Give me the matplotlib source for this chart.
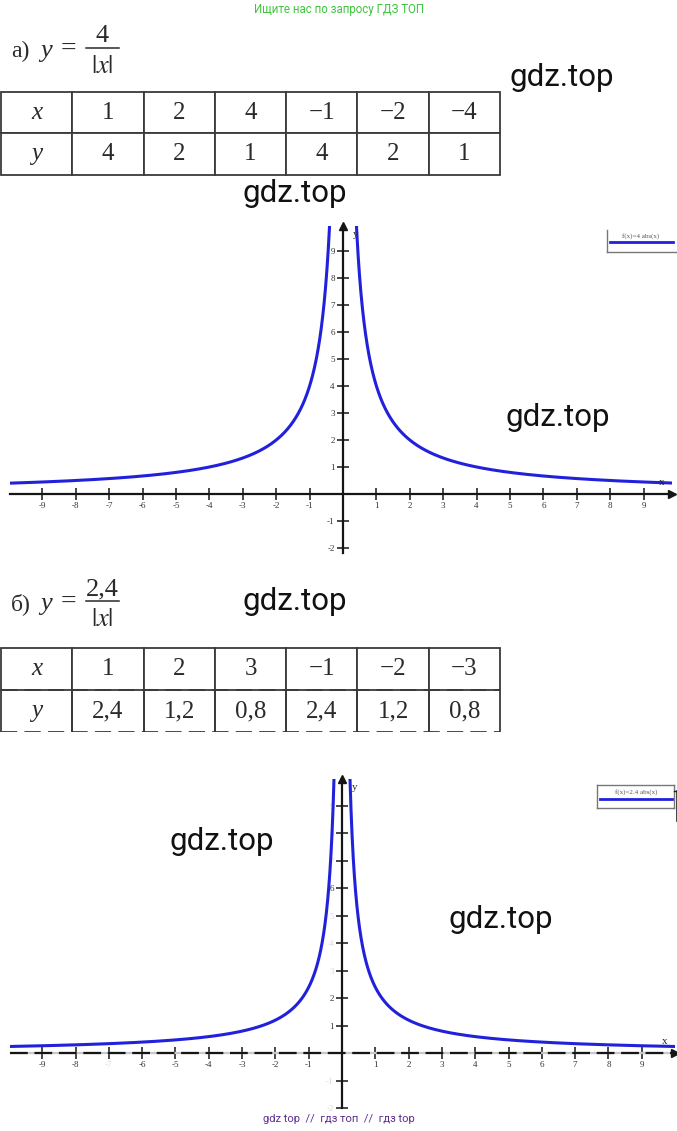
import numpy as np
import matplotlib
matplotlib.use("Agg")
import matplotlib.pyplot as plt
from matplotlib.lines import Line2D

plt.rcParams['axes.unicode_minus'] = False
plt.rcParams['mathtext.fontset'] = 'stix'

W, H = 677, 1131

# table a)
x_a = [1, 2, 4, -1, -2, -4]
y_a = [4, 2, 1, 4, 2, 1]
k_a = 4
# table b)
x_b = [1, 2, 3, -1, -2, -3]
y_b = [2.4, 1.2, 0.8, 2.4, 1.2, 0.8]
k_b = 2.4

x_ticks = [-9, -8, -7, -6, -5, -4, -3, -2, -1, 1, 2, 3, 4, 5, 6, 7, 8, 9]
y_ticks = [-2, -1, 1, 2, 3, 4, 5, 6, 7, 8, 9]

blue = '#2121dc'
ink = '#2a2a2a'
serif = 'Liberation Serif'


def fx(x):
    return x / W


def fy(y):
    return 1 - y / H


def fmt(v):
    s = f"{abs(v):g}".replace('.', ',')
    return ('\u2212' + s) if v < 0 else s


fig = plt.figure(figsize=(W / 100, H / 100), dpi=100)


def fline(x0, y0, x1, y1, **kw):
    fig.add_artist(Line2D([fx(x0), fx(x1)], [fy(y0), fy(y1)], transform=fig.transFigure, **kw))


# header / footer
fig.text(fx(339), fy(10), "Ищите нас по запросу ГДЗ ТОП", color='#3fc43f',
         fontsize=8.3, family='Roboto', ha='center', va='center')
fig.text(fx(339), fy(1119), "gdz top  //  гдз топ  //  гдз top", color='#5b2d8e',
         fontsize=8, family='Roboto', ha='center', va='center')

# watermarks
for (wx, wy) in [(562, 78), (295, 193), (558, 417), (295, 602), (222, 842), (501, 920)]:
    fig.text(fx(wx), fy(wy), "gdz.top", fontsize=22.5, family='Roboto',
             ha='center', va='center', color='#111111')


def formula(off, label, num):
    base = 57 + off
    fig.text(fx(11), fy(base), label, family=serif, fontsize=17,
             ha='left', va='baseline', color=ink)
    fig.text(fx(40), fy(base), "y", family=serif, style='italic', fontsize=19,
             ha='left', va='baseline', color=ink)
    fig.text(fx(68), fy(base - 1), "=", family=serif, fontsize=20,
             ha='center', va='baseline', color=ink)
    fig.text(fx(102), fy(base - 15), num, family=serif, fontsize=19,
             ha='center', va='baseline', color=ink)
    fline(86, base - 9, 119, base - 9, color=ink, lw=1.1)
    fig.text(fx(102), fy(base + 16), r"$|x|$", fontsize=19,
             ha='center', va='baseline', color=ink)


formula(0, "а)", "4")
formula(553, "б)", "2,4")


def make_table(top, bottom, xs, ys, dashed=False):
    ax = fig.add_axes([fx(1), fy(bottom), fx(499), (bottom - top) / H])
    ax.axis('off')
    cells = [['x'] + [fmt(v) for v in xs], ['y'] + [fmt(v) for v in ys]]
    tb = ax.table(cellText=cells, bbox=[0, 0, 1, 1], cellLoc='center')
    tb.auto_set_font_size(False)
    for (r, c), cell in tb.get_celld().items():
        cell.set_text_props(family=serif, fontsize=18, color=ink,
                            style='italic' if c == 0 else 'normal')
        cell.set_linewidth(1.3)
        cell.set_edgecolor('#3a3a3a')
        if dashed and r == 1:
            cell.visible_edges = 'LR'
    if dashed:
        for yy in (0.5, 0.0):
            ax.axhline(yy, color='#3a3a3a', lw=1.3, dashes=(9, 4))
    return ax


make_table(92, 175, x_a, y_a)
make_table(648, 732, x_b, y_b, dashed=True)


def make_graph(box, origin, ppu, k, faint_y=(), faint_x=(), dashed_x=False):
    l, t, r, b = box
    ox, oy = origin
    ax = fig.add_axes([fx(l), fy(b), (r - l) / W, (b - t) / H])
    ax.set_xlim((l - ox) / ppu[0], (r - ox) / ppu[0])
    ax.set_ylim((oy - b) / ppu[1], (oy - t) / ppu[1])
    ax.patch.set_alpha(0)
    for s in ('top', 'right'):
        ax.spines[s].set_visible(False)
    ax.spines['left'].set_position(('data', 0))
    ax.spines['bottom'].set_position(('data', 0))
    ax.spines['left'].set_linewidth(1.6)
    ax.spines['left'].set_color('#151515')
    if dashed_x:
        ax.spines['bottom'].set_visible(False)
        ax.axhline(0, color='#c8c8c8', lw=1.6)
        ax.axhline(0, color='#151515', lw=1.6, dashes=(8, 3))
    else:
        ax.spines['bottom'].set_linewidth(1.6)
        ax.spines['bottom'].set_color('#151515')
    ax.set_xticks(x_ticks)
    ax.set_yticks(y_ticks)
    ax.set_xticklabels([str(v) for v in x_ticks])
    ax.set_yticklabels([str(v) for v in y_ticks])
    ax.tick_params(direction='inout', length=8, width=1.1, color='#151515',
                   labelsize=6.5, pad=2, labelcolor='#333333')
    for lab in ax.get_xticklabels() + ax.get_yticklabels():
        lab.set_family(serif)
    for lab, v in zip(ax.get_yticklabels(), y_ticks):
        if v in faint_y:
            lab.set_color('#d8d8d8')
    for lab, v in zip(ax.get_xticklabels(), x_ticks):
        if v in faint_x:
            lab.set_color('#d8d8d8')
    ax.plot(1, 0, '>', color='#151515', ms=6, transform=ax.get_yaxis_transform(), clip_on=False)
    ax.plot(0, 1, '^', color='#151515', ms=6, transform=ax.get_xaxis_transform(), clip_on=False)
    xs = np.linspace(ax.get_xlim()[0], ax.get_xlim()[1], 4000)
    xs = xs[np.abs(xs) > 0.05]
    for side in (xs[xs < 0], xs[xs > 0]):
        ax.plot(side, k / np.abs(side), color=blue, lw=2.2, solid_capstyle='butt')
    ax.text(0.3, ax.get_ylim()[1] - 0.15, 'y', family=serif, fontsize=8,
            ha='left', va='top', color='#333333')
    ax.text(ax.get_xlim()[1] - 0.3, 0.25, 'x', family=serif, fontsize=8,
            ha='center', va='bottom', color='#222222')
    return ax


make_graph((10, 226, 672, 553), (343, 494), (33.4, 27.0), k_a)
make_graph((10, 779, 675, 1108), (342, 1053.5), (33.3, 27.5), k_b,
           faint_y=(3, 4, 5, 7, 8, 9, -1, -2), faint_x=(-7,), dashed_x=True)

# legend boxes
fline(607, 230, 607, 252, color='#777777', lw=1)
fline(607, 252, 677, 252, color='#777777', lw=1)
fig.text(fx(641), fy(236), "f(x)=4 abs(x)", family=serif, fontsize=5,
         ha='center', va='center', color='#555555')
fline(610, 242, 673, 242, color=blue, lw=2)

for (a, b, c, d) in [(597, 785, 674, 785), (674, 785, 674, 808), (674, 808, 597, 808), (597, 808, 597, 785)]:
    fline(a, b, c, d, color='#777777', lw=1)
fig.text(fx(636), fy(792), "f(x)=2.4 abs(x)", family=serif, fontsize=5,
         ha='center', va='center', color='#555555')
fline(600, 799, 672, 799, color=blue, lw=2)
fline(674, 791, 677, 791, color='#222222', lw=1)
fline(677, 791, 677, 821, color='#222222', lw=1.2)

fig.savefig("out.png", dpi=100)
